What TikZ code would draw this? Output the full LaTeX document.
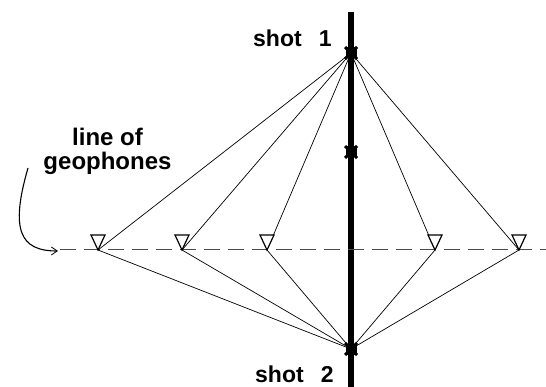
\documentclass[tikz,border=0pt]{standalone}
\usepackage{fontspec}
\setmainfont{Liberation Sans}
\usetikzlibrary{arrows.meta}
\begin{document}
\begin{tikzpicture}[x=1pt,y=-1pt,
  ray/.style={line width=0.7pt},
  phone/.style={draw, line width=1.2pt, fill=white},
  lbl/.style={font=\bfseries\fontsize{23}{24}\selectfont, inner sep=0pt},
  shotmark/.style={fill=black}]
\useasboundingbox (0,0) rectangle (546,387);
% survey line and geophone line
\draw[line width=5.5pt] (351,12) -- (351,387);
\draw[gray!60!black, line width=1pt, dash pattern=on 16pt off 8pt] (60,250) -- (546,250);
% geophone positions
\foreach \n/\x in {g1/98,g2/182,g3/267,g4/435,g5/519}
  \coordinate (\n) at (\x,250);
\coordinate (s1) at (351,53);
\coordinate (s2) at (351,349);
\coordinate (m) at (351,152);
% ray paths
\foreach \n in {g1,g2,g3,g4,g5} {
  \draw[ray] (s1) -- (\n);
  \draw[ray] (s2) -- (\n);
}
% geophone symbols
\foreach \n in {g1,g2,g3,g4,g5}
  \draw[phone] (\n) -- ++(-7,-15) -- ++(14,0) -- cycle;
% shot marks
\foreach \n in {s1,m,s2} {
  \fill[shotmark] ([shift={(-5.5,-5.5)}]\n) rectangle ([shift={(5.5,5.5)}]\n);
  \draw[line width=3pt] ([shift={(-6,-6)}]\n) -- ([shift={(6,6)}]\n);
  \draw[line width=3pt] ([shift={(-6,6)}]\n) -- ([shift={(6,-6)}]\n);
}
% labels
\node[lbl, anchor=base west] (t1) at (253,47) {shot\hspace{17pt}1};
\node[lbl, anchor=base west] (t2) at (255,382) {shot\hspace{17pt}2};
\node[lbl, font=\bfseries\fontsize{24}{24}\selectfont, anchor=base] (t3) at (107.5,146) {line of};
\node[lbl, font=\bfseries\fontsize{24}{24}\selectfont, anchor=base] (t4) at (107.5,170) {geophones};
\coordinate (a0) at (28,168);
\coordinate (a1) at (58,251);
\draw[line width=1.1pt, -{Straight Barb[length=6pt,width=8pt,line width=0.8pt]}] (a0) .. controls (10,230) and (20,251) .. (a1);
\end{tikzpicture}
\end{document}
